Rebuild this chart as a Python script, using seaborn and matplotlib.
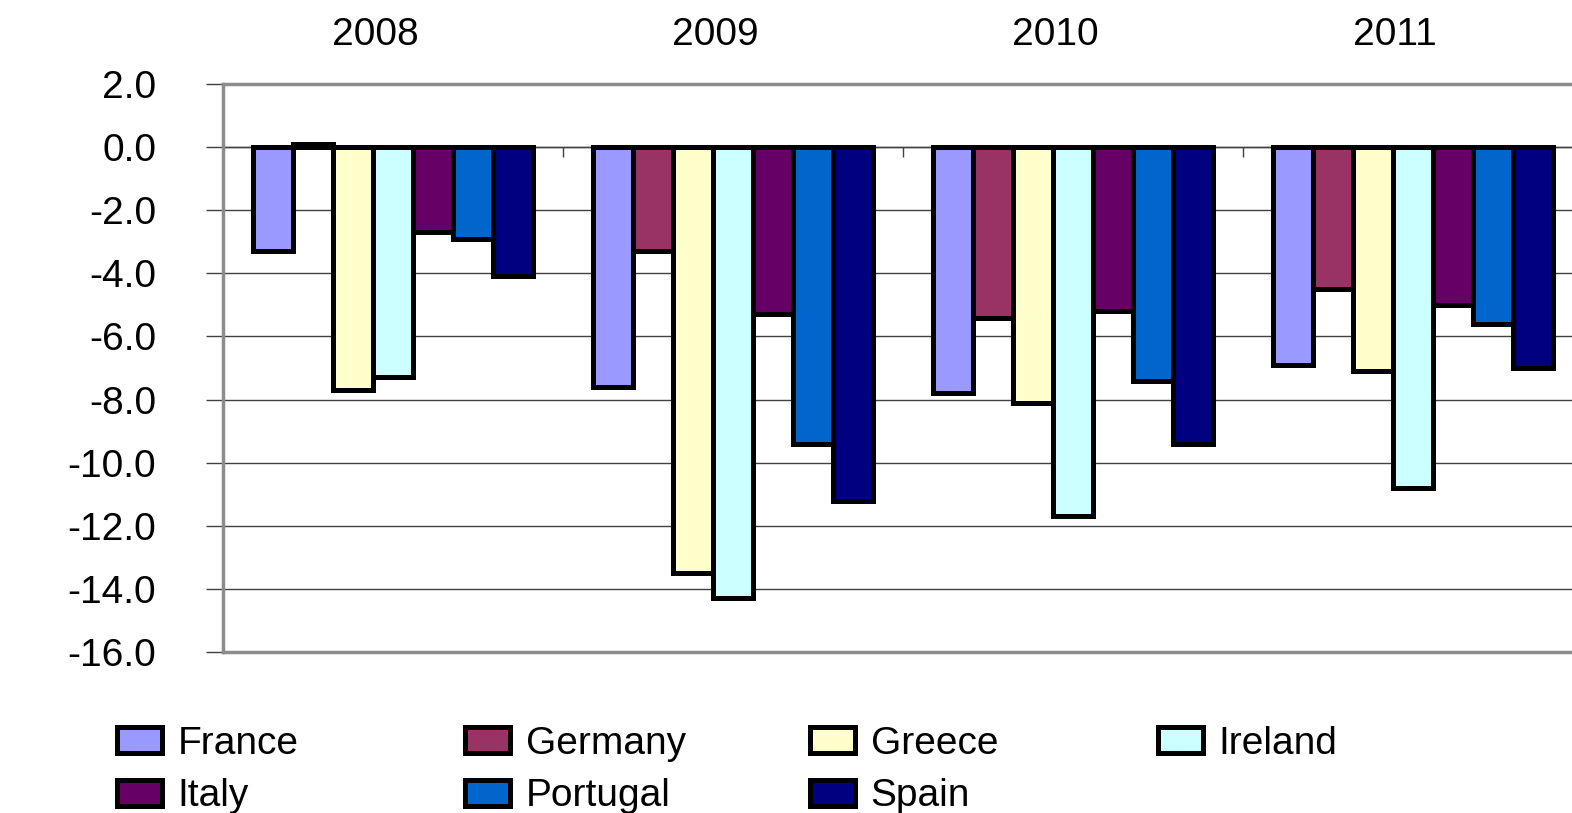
import pandas as pd
import numpy as np
import seaborn as sns
import matplotlib.pyplot as plt
from matplotlib.transforms import ScaledTranslation

# ---- data ----
years = ['2008', '2009', '2010', '2011']
countries = ['France', 'Germany', 'Greece', 'Ireland', 'Italy', 'Portugal', 'Spain']
france = [-3.3, -7.6, -7.8, -6.9]
germany = [0.1, -3.3, -5.4, -4.5]
greece = [-7.7, -13.5, -8.1, -7.1]
ireland = [-7.3, -14.3, -11.7, -10.8]
italy = [-2.7, -5.3, -5.2, -5.0]
portugal = [-2.9, -9.4, -7.4, -5.6]
spain = [-4.1, -11.2, -9.4, -7.0]
colors = ['#9999FF', '#993366', '#FFFFCC', '#CCFFFF', '#660066', '#0066CC', '#000080']
yticks = np.arange(-16, 2.1, 2)

series = [france, germany, greece, ireland, italy, portugal, spain]
df = pd.DataFrame([
    {'year': y, 'country': c, 'value': v}
    for c, vals in zip(countries, series)
    for y, v in zip(years, vals)
])

sns.set_style('white')
plt.rcParams['font.family'] = ['Liberation Sans', 'DejaVu Sans']
plt.rcParams['text.color'] = 'black'
plt.rcParams['xtick.color'] = 'black'
plt.rcParams['ytick.color'] = 'black'

fig = plt.figure(figsize=(15.72, 8.13), dpi=100)
ax = fig.add_axes([223 / 1572, 1 - 652 / 813, 1360 / 1572, 568 / 813])

sns.barplot(data=df, x='year', y='value', hue='country', order=years,
            hue_order=countries, palette=colors, saturation=1, width=0.8235,
            edgecolor='black', linewidth=3.6, ax=ax, zorder=3)

ax.set_xlim(-0.5, 3.5)
ax.set_ylim(-16, 2)
ax.set_yticks(yticks)
ax.set_yticklabels([f'{t:.1f}' for t in yticks])
ax.set_xlabel('')
ax.set_ylabel('')

ax.yaxis.grid(True, color='#404040', linewidth=1, zorder=0)
for side in ['left', 'top', 'bottom', 'right']:
    ax.spines[side].set_color('#8c8c8c')
    ax.spines[side].set_linewidth(2.5)

ax.tick_params(axis='y', left=True, length=12, width=1, color='#404040',
               pad=36, labelsize=28, labelcolor='black')
ax.tick_params(axis='x', bottom=False, top=False, labelbottom=False,
               labeltop=True, labelsize=28, pad=19, labelcolor='black')
shift = ScaledTranslation(-0.18, 0, fig.dpi_scale_trans)
for lab in ax.get_xticklabels():
    lab.set_transform(lab.get_transform() + shift)

# category separators on the zero line
ymin, ymax = ax.get_ylim()
sec = ax.secondary_xaxis((0 - ymin) / (ymax - ymin))
sec.set_xticks([0.5, 1.5, 2.5])
sec.tick_params(direction='in', length=7, width=1, color='#404040',
                labeltop=False, labelbottom=False)
for sp in sec.spines.values():
    sp.set_color('#404040')
    sp.set_linewidth(1)

# legend: 4 equal-width columns filled row by row, one small legend per column
handles, labels = ax.get_legend_handles_labels()
ax.get_legend().remove()
col_x = [117, 465, 810, 1158]
for j, x0 in enumerate(col_x):
    idx = [i for i in (j, j + 4) if i < len(labels)]
    leg = fig.legend([handles[i] for i in idx], [labels[i] for i in idx],
                     loc='upper left', frameon=False,
                     bbox_to_anchor=(x0 / 1572, 1 - 726 / 813),
                     fontsize=28, handlelength=1.16, handleheight=0.64,
                     handletextpad=0.4, labelspacing=0.42,
                     borderpad=0, borderaxespad=0)

plt.savefig('out.png', dpi=100)
